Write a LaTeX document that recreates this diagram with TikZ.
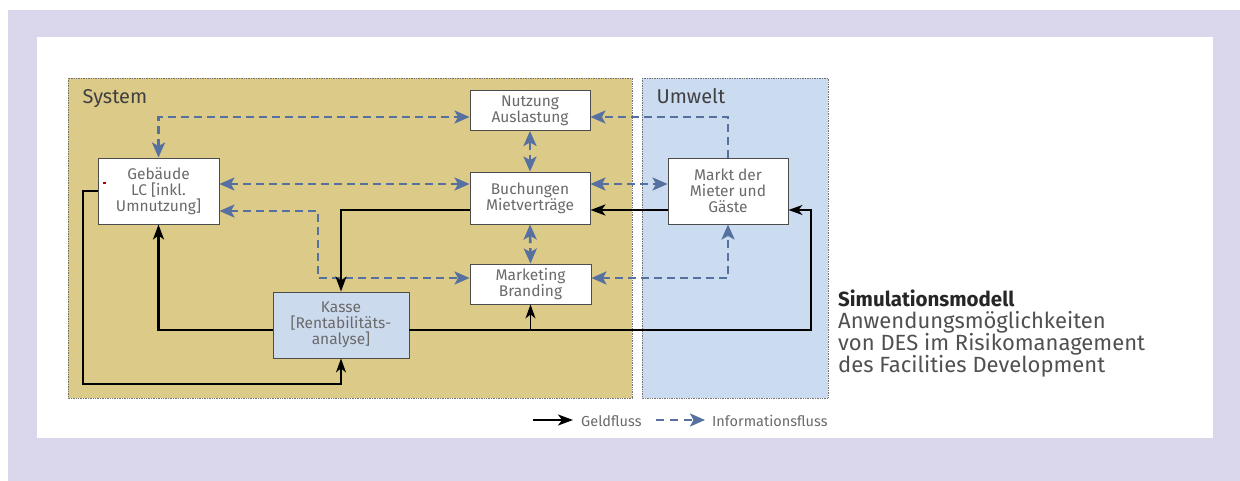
\documentclass[tikz,border=0pt]{standalone}
\usepackage{fontspec}
\setmainfont{Fira Sans}
\usetikzlibrary{arrows.meta,calc}
\definecolor{frame}{HTML}{DAD7EC}
\definecolor{sysfill}{HTML}{DCCA88}
\definecolor{envfill}{HTML}{CBDCF1}
\definecolor{kassefill}{HTML}{CCDAEE}
\definecolor{infoblue}{HTML}{5670A0}
\definecolor{txtgray}{HTML}{6A6A6A}
\definecolor{capgray}{HTML}{505050}
\tikzset{
  infotip/.tip={Stealth[length=15pt,width=13pt,inset=3.5pt]},
  box/.style={draw=black!70, line width=0.9pt, fill=white, align=center,
    text=txtgray, inner sep=0pt,
    font=\fontsize{15.5}{16}\selectfont},
  area/.style={draw=black!55, densely dotted, line width=0.7pt},
  info/.style={draw=infoblue, line width=2.6pt, dash pattern=on 8pt off 5pt,
    arrows={infotip-infotip}},
  inforight/.style={draw=infoblue, line width=2.6pt, dash pattern=on 8pt off 5pt,
    arrows={-infotip}},
  moneythick/.style={draw=black, line width=2.4pt, -{Stealth[length=15pt,width=11pt,inset=4pt]}},
  moneythin/.style={draw=black, line width=1.4pt, -{Stealth[length=14pt,width=10pt,inset=4pt]}},
  arealabel/.style={anchor=base west, text=black!75, font=\fontsize{20}{22}\selectfont},
  legendtext/.style={anchor=west, text=txtgray, font=\fontsize{14.5}{16}\selectfont, inner sep=0pt}
}
\begin{document}
\begin{tikzpicture}[x=1pt,y=-1pt]
\useasboundingbox (0,0) rectangle (1240,481);
\fill[white] (0,0) rectangle (1240,481);
\fill[frame] (8,10) rectangle (1240,481);
\fill[white] (37,37) rectangle (1213,438);
% areas
\fill[sysfill] (68,78) rectangle (632,398);
\draw[area] (68,78) rectangle (632,398);
\fill[envfill] (642,78) rectangle (828,398);
\draw[area] (642,78) rectangle (828,398);
\node[arealabel] (syslab) at (79,104) {System};
\node[arealabel] (envlab) at (653,104) {Umwelt};
% nodes
\node[box, minimum width=121pt, minimum height=66pt] (geb) at (158.5,191) {Gebäude\\LC {[}inkl.\\Umnutzung{]}};
\node[box, minimum width=120pt, minimum height=40pt] (nutz) at (530,110.5) {Nutzung\\Auslastung};
\node[box, minimum width=120pt, minimum height=52pt] (buch) at (530,198) {Buchungen\\Mietverträge};
\node[box, minimum width=120pt, minimum height=66pt] (markt) at (728,191) {Markt der\\Mieter und\\Gäste};
\node[box, minimum width=121pt, minimum height=40pt] (mark) at (530.5,284) {Marketing\\Branding};
\node[box, fill=kassefill, minimum width=136pt, minimum height=66pt] (kasse) at (341,325) {Kasse\\{[}Rentabilitäts-\\analyse{]}};
% small red mark
\fill[red!70!black] (102.5,182) rectangle (105.5,184.5);
% information flows
\draw[info] (geb.north) |- ([yshift=-6.5pt]nutz.west);
\draw[info] ([yshift=7pt]geb.east) -- ([yshift=7pt]geb.east -| buch.west);
\coordinate (i3) at (318,278);
\draw[info] ([yshift=-20pt]geb.east) -| (i3) -- (i3 -| mark.west);
\draw[info] (nutz.south) -- (buch.north);
\draw[info] (buch.south) -- (mark.north);
\draw[inforight] (markt.north) |- ([yshift=-6.5pt]nutz.east);
\draw[info] ([yshift=14pt]buch.east) -- ([yshift=14pt]buch.east -| markt.west);
\draw[info] ([yshift=6pt]mark.east) -| (markt.south);
% money flows
\draw[moneythick] ([yshift=-19pt]markt.west) -- ([yshift=-19pt]markt.west -| buch.east);
\draw[moneythick] ([yshift=-12pt]buch.west) -| (kasse.north);
\draw[moneythick] ([yshift=-5pt]kasse.west) -| (geb.south);
\coordinate (d1) at (83,384);
\draw[moneythin] (geb.west) -| (d1) -| (kasse.south);
\coordinate (e1) at (811,330);
\coordinate (kE) at ([yshift=-5pt]kasse.east);
\coordinate (mE) at ([yshift=-19pt]markt.east);
\draw[moneythin] (kE) -- (kE -| e1) |- (mE);
\draw[moneythin] (kE -| mark.south) -- (mark.south);
% legend
\coordinate (lg1) at (533,420);
\coordinate (lg2) at (573,420);
\draw[moneythick, line width=2pt] (lg1) -- (lg2);
\node[legendtext] (lgt1) at (581,421) {Geldfluss};
\coordinate (lg3) at (656,420);
\coordinate (lg4) at (705,420);
\draw[inforight, line width=2.4pt, dash pattern=on 8pt off 6pt] (lg3) -- (lg4);
\node[legendtext] (lgt2) at (712,421) {Informationsfluss};
% caption
\node[anchor=base west, align=left, inner sep=0pt, text=capgray, font=\fontsize{22}{22}\selectfont] (cap) at (838,372)
  {{\bfseries\color{black!85}\fontsize{20.5}{22}\selectfont Simulationsmodell}\\Anwendungsmöglichkeiten\\von DES im Risikomanagement\\des Facilities Development};
\end{tikzpicture}
\end{document}
